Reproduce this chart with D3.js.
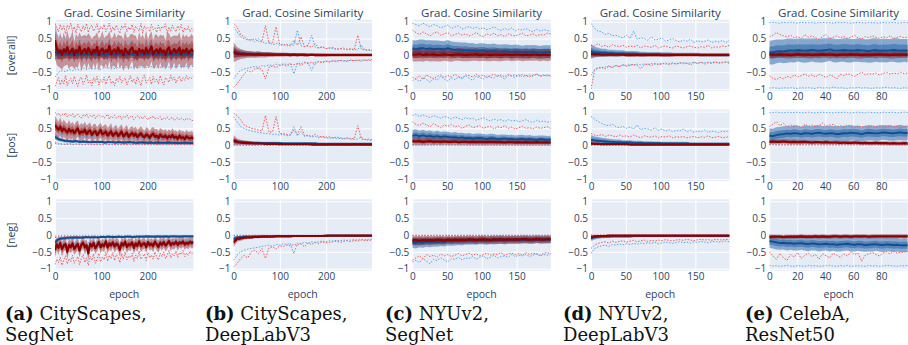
<!DOCTYPE html>
<html><head><meta charset="utf-8">
<script src="https://cdn.jsdelivr.net/npm/d3@7"></script>
<style>
html,body{margin:0;padding:0;background:#fff;}
svg{display:block;}
</style></head><body>
<svg id="chart" width="908" height="345"></svg>
<script>
// ---- labels ----
const panelTitle = "Grad. Cosine Similarity";
const rowLabels = ["[overall]", "[pos]", "[neg]"];
const xAxisTitle = "epoch";
const captionTags = ["(a)", "(b)", "(c)", "(d)", "(e)"];
const captionLine1 = ["CityScapes,", "CityScapes,", "NYUv2,", "NYUv2,", "CelebA,"];
const captionLine2 = ["SegNet", "DeepLabV3", "SegNet", "DeepLabV3", "ResNet50"];
const epochCounts = [300, 300, 200, 200, 100];
const xTickValues = [[0, 100, 200], [0, 100, 200], [0, 50, 100, 150], [0, 50, 100, 150], [0, 20, 40, 60, 80]];
const yTickValues = [-1, -0.5, 0, 0.5, 1];

// ---- series values (hundredths), sampled evenly over the epochs ----
// naming: <col><row>_<r|b><M mean | S spread | Hi max | Lo min>, rows O overall, P pos, N neg
// (a) CityScapes, SegNet
const aO_rM = [45,20,8,15,2,18,10,24,5,12, 20,0,16,8,26,4,13,19,6,22, 11,3,17,9,25,1,14,21,7,16, 10,28,3,12,18,6,23,9,15,0, 20,11,5,17,24,8,13,2,19,10, 16,4,22,7,14,27,3,12,18,6, 21,9,15,1,17,24,5,11,19,8, 14,22,3,16,9,20,6,13,18,10];
const aO_rS = [55,48,42,52,45,50,40,51,46,44, 53,41,49,46,43,52,45,42,51,44, 48,46,40,50,44,49,42,53,45,41, 50,44,48,42,51,46,40,49,43,47, 52,42,48,45,40,51,46,43,50,42, 47,44,52,41,48,45,42,50,44,47, 41,49,45,43,51,42,48,46,40,50, 44,47,42,49,45,41,48,44,46,43];
const aO_rHi = [95,82,70,92,75,88,64,90,78,96, 72,85,66,93,80,70,88,76,95,68, 84,90,72,80,94,66,86,78,92,70, 82,96,68,85,74,90,78,65,88,80, 94,70,84,76,92,68,86,80,72,95, 66,88,78,84,70,92,76,82,68,90, 74,86,80,94,66,84,72,90,78,70, 88,76,92,68,82,74,86,70,80,72];
const aO_rLo = [-92,-78,-66,-88,-72,-85,-60,-90,-75,-68, -84,-62,-80,-92,-70,-64,-86,-76,-58,-82, -74,-90,-66,-78,-62,-88,-72,-80,-64,-86, -70,-60,-84,-76,-90,-68,-78,-62,-82,-72, -66,-88,-74,-60,-80,-70,-86,-64,-76,-90, -68,-58,-82,-74,-66,-86,-62,-78,-70,-84, -60,-76,-88,-66,-72,-80,-58,-74,-64,-82, -70,-62,-78,-66,-74,-60,-72,-64,-68,-62];
const aO_bM = [10,5,4,6,3,5,4,2,5,3, 6,4,3,5,2,4,5,3,6,4, 3,5,4,2,5,3,4,6,3,4, 5,2,4,3,5,4,3,5,4,3];
const aO_bS = [22,16,14,15,13,14,14,12,14,13, 15,13,14,12,13,14,13,14,12,13, 14,13,12,14,13,12,14,13,12,13, 14,12,13,12,14,13,12,13,12,13];
const aO_bHi = [70,55,50,48,45,50,42,46,40,44, 38,42,40,45,38,40,36,42,38,40, 35,38,40,36,38,34,37,40,35,36, 38,34,36,35,38,33,36,35,34,35];
const aO_bLo = [-65,-50,-45,-48,-42,-45,-40,-44,-38,-42, -36,-40,-38,-42,-35,-38,-36,-40,-34,-37, -35,-38,-33,-36,-35,-34,-37,-33,-35,-34, -36,-32,-35,-33,-34,-32,-35,-33,-32,-33];

const aP_rM = [60,52,46,55,42,50,44,38,48,40, 45,36,43,50,34,41,38,46,33,40, 44,31,38,42,30,37,45,32,36,40, 29,35,41,28,34,38,27,33,40,26, 32,37,25,31,36,28,34,24,30,35, 27,23,32,29,22,30,34,25,28,21, 31,26,24,29,20,27,23,30,22,25, 19,28,21,24,18,26,22,20,23,19];
const aP_rS = [28,26,24,27,25,26,24,25,27,23, 25,24,26,23,24,25,23,24,26,22, 24,23,25,22,23,24,22,23,24,22, 23,22,24,21,23,22,21,23,22,21, 22,23,21,22,20,22,21,22,20,21, 22,20,21,22,20,21,20,22,20,21, 20,21,20,19,21,20,19,20,21,19, 20,19,20,19,20,19,18,20,19,18];
const aP_rHi = [98,90,95,86,93,88,96,84,91,87, 94,82,89,92,85,80,90,86,93,82, 88,84,91,79,86,90,83,88,80,85, 92,78,86,82,89,80,84,88,77,85, 82,90,79,84,87,76,83,88,80,85, 78,86,82,75,84,80,87,77,82,79, 85,74,81,78,84,76,80,83,73,79, 82,75,80,77,73,81,76,78,72,75];
const aP_rLo = [10,5,4,3,5,2,4,3,2,4, 3,2,3,2,4,2,3,2,3,2, 2,3,2,2,3,2,2,3,2,2, 2,3,2,2,2,2,3,2,2,2];
const aP_bM = [25,18,15,13,12,11,12,10,11,10, 9,10,9,10,8,9,9,8,9,8, 8,9,8,7,8,8,7,8,7,8, 7,7,8,7,7,6,7,7,6,7];
const aP_bS = [8,6,5,5,5,5,4,5,4,4, 4,4,4,4,4,4,4,4,4,4, 4,4,4,4,4,4,4,4,4,4, 4,4,4,4,4,4,4,4,4,4];
const aP_bHi = [45,35,32,30,28,30,26,28,25,27, 24,26,23,25,22,24,22,23,21,22, 20,22,21,20,21,19,20,21,19,20, 19,18,20,19,18,19,18,17,18,17];
const aP_bLo = [5,3,2,2,2,1,2,1,1,2, 1,1,1,1,1,1,1,1,1,1, 1,1,1,1,1,1,1,1,1,1, 1,1,1,1,1,1,1,1,1,1];

const aN_rM = [-45,-28,-38,-24,-42,-31,-27,-50,-30,-36, -25,-41,-33,-27,-46,-29,-23,-37,-30,-54, -26,-34,-24,-39,-31,-21,-36,-28,-33,-19, -37,-25,-31,-22,-34,-26,-29,-44,-24,-31, -20,-35,-27,-30,-22,-38,-25,-32,-19,-33, -27,-24,-36,-21,-30,-26,-33,-20,-28,-35, -23,-29,-21,-31,-26,-18,-30,-24,-27,-20, -29,-22,-25,-19,-28,-23,-26,-20,-24,-21];
const aN_rS = [22,19,21,18,22,19,17,22,19,18, 21,17,20,18,21,17,18,20,17,22, 18,17,19,17,18,16,19,17,18,16, 19,17,18,16,19,17,18,20,16,18, 16,19,17,18,16,19,17,18,16,18, 17,16,18,16,17,16,18,16,17,18, 16,17,16,17,16,15,17,16,16,15, 17,15,16,15,16,15,16,15,16,15];
const aN_rHi = [-8,-5,-6,-4,-7,-5,-4,-6,-5,-4, -6,-3,-5,-4,-6,-3,-4,-5,-3,-6, -4,-3,-5,-3,-4,-3,-5,-2,-4,-3, -4,-2,-3,-3,-4,-2,-3,-2,-3,-2];
const aN_rLo = [-88,-72,-82,-66,-90,-74,-62,-86,-70,-80, -60,-84,-75,-64,-88,-70,-58,-82,-68,-90, -63,-76,-56,-84,-72,-54,-80,-65,-74,-50, -78,-60,-70,-52,-76,-58,-66,-82,-55,-72, -50,-74,-62,-68,-54,-78,-60,-70,-48,-72, -64,-56,-76,-52,-68,-60,-72,-50,-66,-74, -54,-64,-50,-70,-60,-46,-68,-56,-62,-48, -66,-52,-58,-46,-64,-54,-60,-48,-56,-50];
const aN_bM = [-22,-12,-10,-9,-8,-8,-7,-8,-7,-6, -7,-6,-7,-6,-6,-5,-6,-6,-5,-6, -5,-5,-6,-5,-5,-5,-4,-5,-5,-4, -5,-4,-5,-4,-4,-5,-4,-4,-4,-4];
const aN_bS = [8,6,5,5,5,5,5,4,5,4, 4,4,4,4,4,4,4,4,4,4, 4,4,4,4,4,4,4,4,4,4, 4,4,4,4,4,4,4,4,4,4];
const aN_bHi = [-3,-2,-1,-1,-1,-1,-1,-1,-1,-1, -1,-1,-1,-1,-1,-1,-1,-1,-1,-1, -1,-1,-1,-1,-1,-1,-1,-1,-1,-1, -1,-1,-1,-1,-1,-1,-1,-1,-1,-1];
const aN_bLo = [-45,-30,-28,-25,-26,-24,-23,-25,-22,-24, -21,-23,-22,-20,-22,-21,-20,-22,-19,-21, -20,-19,-21,-18,-20,-19,-18,-20,-18,-19, -18,-17,-19,-17,-18,-17,-16,-18,-16,-17];

// (b) CityScapes, DeepLabV3
const bO_rM = [10,5,4,3,3,3,2,3,2,2, 2,2,2,2,2,2,1,2,1,2, 1,1,2,1,1,1,1,1,1,1, 1,1,1,1,1,1,1,1,1,1];
const bO_rS = [30,20,15,12,10,10,9,9,8,8, 7,7,6,6,6,5,5,5,5,5, 4,4,4,4,4,4,4,3,3,3, 3,3,3,3,3,3,3,3,3,3];
const bO_rHi = [95,85,62,55,48,45,50,42,40,88, 36,38,85,32,30,33,28,45,30,55, 26,28,24,35,22,26,20,22,24,18, 20,22,18,20,17,60,18,16,17,15];
const bO_rLo = [-95,-85,-70,-55,-45,-50,-40,-38,-42,-70, -35,-32,-36,-30,-28,-32,-26,-28,-25,-30, -22,-24,-20,-26,-18,-22,-17,-20,-16,-18, -15,-17,-18,-14,-16,-15,-17,-14,-15,-14];
const bO_bM = [10,6,5,5,4,4,4,4,4,3, 4,3,3,3,3,3,3,3,3,2, 3,2,2,2,2,2,2,2,2,2, 2,2,2,2,2,2,2,2,2,2];
const bO_bS = [18,12,10,9,8,7,7,7,6,6, 6,5,5,5,5,5,4,4,4,4, 4,4,4,4,4,3,3,3,3,3, 3,3,3,3,3,3,3,3,3,3];
const bO_bHi = [85,70,55,50,45,48,40,50,42,35, 40,32,36,30,34,28,32,30,75,28, 26,30,60,24,22,25,20,22,20,18, 20,18,17,18,16,18,30,16,15,14];
const bO_bLo = [-70,-55,-45,-40,-38,-35,-33,-36,-30,-32, -28,-30,-26,-28,-25,-27,-24,-55,-22,-25, -20,-22,-45,-20,-18,-20,-17,-18,-16,-17, -15,-16,-15,-14,-15,-14,-13,-14,-13,-12];

const bP_rM = [15,10,8,7,6,6,5,5,5,4, 4,4,4,3,3,3,3,3,3,3, 3,3,2,2,2,2,2,2,2,2, 2,2,2,2,2,2,2,2,2,2];
const bP_rS = [16,10,8,7,6,6,5,5,4,4, 4,4,4,3,3,3,3,3,3,3, 3,3,3,3,3,3,2,2,2,2, 2,2,2,2,2,2,2,2,2,2];
const bP_rHi = [95,88,75,60,55,50,48,45,42,88, 38,40,85,35,34,32,30,45,32,55, 28,30,26,32,25,26,24,25,22,24, 22,20,22,20,19,58,18,17,18,16];
const bP_rLo = [1,0,0,0,0,0,0,0,0,0, 0,0,0,0,0,0,0,0,0,0, 0,0,0,0,0,0,0,0,0,0, 0,0,0,0,0,0,0,0,0,0];
const bP_bM = [12,10,9,8,8,7,7,7,6,6, 6,6,6,6,5,5,5,5,5,5, 5,5,5,5,4,4,4,4,4,4, 4,4,4,4,4,4,4,4,4,4];
const bP_bS = [8,6,5,5,5,5,4,4,4,4, 4,4,4,4,4,4,4,4,4,4, 4,4,4,4,4,4,4,4,4,4, 4,4,4,4,4,4,4,4,4,4];
const bP_bHi = [85,70,55,50,45,42,40,38,36,35, 34,32,33,30,32,28,30,55,28,40, 26,28,24,26,22,24,22,20,22,19, 20,18,20,18,17,18,25,16,15,14];
const bP_bLo = [2,1,1,1,1,1,1,1,1,1, 1,1,1,1,1,1,1,1,1,1, 1,1,1,1,1,1,1,1,1,1, 1,1,1,1,1,1,1,1,1,1];

const bN_rM = [-22,-12,-10,-8,-7,-7,-6,-6,-5,-5, -5,-5,-4,-4,-4,-4,-4,-3,-3,-3, -3,-3,-3,-3,-3,-3,-2,-2,-2,-2, -2,-2,-2,-2,-2,-2,-2,-2,-2,-2];
const bN_rS = [14,8,7,6,5,5,4,4,4,4, 3,3,3,3,3,3,3,3,3,3, 3,3,3,3,2,2,2,2,2,2, 2,2,2,2,2,2,2,2,2,2];
const bN_rHi = [-2,-1,-1,-1,-1,-1,-1,-1,-1,-1, -1,-1,-1,-1,-1,-1,-1,-1,-1,-1, -1,-1,-1,-1,-1,-1,-1,-1,-1,-1, -1,-1,-1,-1,-1,-1,-1,-1,-1,-1];
const bN_rLo = [-95,-85,-70,-60,-68,-50,-45,-55,-40,-70, -38,-35,-42,-32,-34,-30,-32,-28,-30,-26, -35,-24,-28,-22,-26,-20,-24,-22,-20,-18, -22,-19,-17,-20,-16,-18,-15,-17,-16,-15];
const bN_bM = [-12,-8,-6,-5,-5,-5,-4,-4,-4,-4, -4,-4,-3,-3,-3,-3,-3,-3,-3,-3, -3,-3,-3,-3,-3,-3,-3,-2,-2,-2, -2,-2,-2,-2,-2,-2,-2,-2,-2,-2];
const bN_bS = [8,5,4,4,4,4,4,3,3,3, 3,3,3,3,3,3,3,3,3,3, 3,3,3,3,3,3,3,3,3,3, 3,3,3,3,3,3,3,3,3,3];
const bN_bHi = [-1,-1,-1,-1,-1,-1,-1,-1,-1,-1, -1,-1,-1,-1,-1,-1,-1,-1,-1,-1, -1,-1,-1,-1,-1,-1,-1,-1,-1,-1, -1,-1,-1,-1,-1,-1,-1,-1,-1,-1];
const bN_bLo = [-75,-60,-50,-45,-42,-40,-38,-36,-34,-32, -30,-34,-28,-30,-26,-28,-25,-55,-24,-26, -22,-24,-20,-22,-20,-18,-20,-17,-18,-16, -17,-15,-16,-15,-14,-15,-13,-14,-13,-12];

// (c) NYUv2, SegNet
const cO_rM = [3,2,4,1,3,2,3,1,2,3, 2,1,2,3,2,1,2,2,3,1, 2,2,1,2,2,1,2,2,1,2, 2,1,2,1,2,2,1,2,1,2];
const cO_rS = [21,20,21,20,19,20,20,19,20,19, 19,20,18,19,19,18,19,18,19,18, 18,19,18,18,19,18,18,17,18,18, 17,18,18,17,18,17,18,17,18,17];
const cO_rHi = [75,68,62,70,64,58,66,70,60,64, 68,58,62,66,60,64,58,62,68,60, 56,64,60,66,58,62,56,64,60,58, 62,66,58,60,64,58,62,60,66,64];
const cO_rLo = [-65,-70,-60,-72,-58,-64,-70,-62,-58,-66, -60,-64,-56,-62,-68,-58,-60,-64,-56,-62, -58,-66,-60,-56,-62,-58,-64,-56,-60,-58, -62,-56,-60,-64,-58,-56,-62,-60,-58,-62];
const cO_bM = [20,18,20,22,19,21,18,20,19,17, 22,18,16,17,15,16,14,15,13,14, 15,12,13,14,12,11,13,12,10,12, 11,10,11,10,12,10,9,10,11,10];
const cO_bS = [25,26,27,25,26,24,26,24,24,25, 24,23,24,22,23,22,22,22,21,22, 21,22,21,21,20,21,20,20,21,20, 20,19,20,20,19,20,19,20,19,20];
const cO_bHi = [95,92,88,96,90,85,92,88,82,86, 90,80,84,88,78,82,86,80,84,78, 82,76,80,85,78,74,80,76,82,72, 78,75,80,74,70,78,72,76,74,72];
const cO_bLo = [-75,-70,-78,-65,-72,-80,-68,-74,-62,-70, -76,-66,-72,-64,-70,-60,-68,-74,-62,-66, -70,-60,-65,-68,-58,-64,-70,-60,-62,-66, -56,-64,-60,-58,-62,-55,-60,-58,-62,-56];

const cP_rM = [12,11,12,10,11,12,10,11,10,11, 10,10,11,9,10,10,9,10,9,10, 9,9,10,9,9,9,8,9,9,8, 9,8,9,8,8,9,8,8,8,8];
const cP_rS = [12,11,12,11,11,11,11,10,11,10, 10,10,10,10,10,10,10,10,10,10, 10,10,10,10,9,9,9,9,9,9, 9,9,9,9,9,9,9,9,9,9];
const cP_rHi = [70,62,58,66,60,55,64,58,52,60, 56,62,54,58,50,56,60,52,55,58, 50,54,56,48,55,52,58,50,54,48, 52,56,50,52,48,54,50,52,55,50];
const cP_rLo = [0,0,0,0,0,0,0,0,0,0, 0,0,0,0,0,0,0,0,0,0, 0,0,0,0,0,0,0,0,0,0, 0,0,0,0,0,0,0,0,0,0];
const cP_bM = [28,30,27,29,26,28,25,27,24,26, 25,23,24,22,23,21,22,20,21,22, 20,19,21,20,18,19,20,18,19,17, 18,19,17,18,17,16,18,17,16,17];
const cP_bS = [17,17,16,17,16,16,15,16,15,15, 15,14,15,14,14,14,14,13,14,13, 13,13,13,13,12,13,12,12,12,12, 12,12,12,12,11,12,11,12,11,11];
const cP_bHi = [88,92,85,90,86,82,88,84,80,86, 82,78,84,80,76,82,78,80,74,78, 82,76,72,78,74,76,70,76,72,74, 70,72,76,70,68,74,70,72,68,70];
const cP_bLo = [2,3,2,2,3,2,2,2,2,2, 2,2,1,2,2,1,2,1,2,1, 1,2,1,1,1,1,1,1,1,1, 1,1,1,1,1,1,1,1,1,1];

const cN_rM = [-16,-15,-17,-15,-16,-15,-16,-14,-15,-16, -14,-15,-14,-15,-14,-15,-13,-14,-15,-14, -13,-14,-15,-13,-14,-13,-14,-13,-14,-13, -14,-12,-13,-14,-13,-12,-13,-14,-12,-13];
const cN_rS = [14,13,14,13,13,13,13,12,13,12, 12,12,12,12,12,12,12,12,12,12, 12,12,12,12,12,12,12,12,12,12, 12,12,12,12,12,12,12,12,12,12];
const cN_rHi = [-1,-1,-1,-1,-1,-1,-1,-1,-1,-1, -1,-1,-1,-1,-1,-1,-1,-1,-1,-1, -1,-1,-1,-1,-1,-1,-1,-1,-1,-1, -1,-1,-1,-1,-1,-1,-1,-1,-1,-1];
const cN_rLo = [-75,-68,-62,-70,-58,-64,-60,-66,-56,-62, -58,-64,-60,-55,-62,-58,-54,-60,-56,-62, -58,-54,-60,-56,-58,-52,-60,-56,-54,-58, -55,-60,-52,-58,-54,-56,-60,-54,-52,-56];
const cN_bM = [-22,-24,-21,-23,-20,-22,-20,-21,-19,-20, -18,-19,-18,-17,-18,-16,-17,-16,-17,-15, -16,-17,-15,-16,-15,-14,-16,-15,-14,-15, -14,-15,-13,-14,-15,-13,-14,-13,-14,-13];
const cN_bS = [16,16,15,15,15,14,14,14,14,14, 13,13,13,13,13,12,12,12,12,12, 12,12,12,12,12,12,12,11,11,11, 11,11,11,11,11,11,11,11,11,11];
const cN_bHi = [-2,-1,-2,-1,-1,-2,-1,-1,-1,-1, -1,-1,-1,-1,-1,-1,-1,-1,-1,-1, -1,-1,-1,-1,-1,-1,-1,-1,-1,-1, -1,-1,-1,-1,-1,-1,-1,-1,-1,-1];
const cN_bLo = [-80,-75,-82,-70,-78,-85,-72,-76,-68,-74, -80,-70,-72,-66,-74,-68,-70,-64,-72,-66, -62,-70,-66,-60,-68,-64,-62,-66,-58,-64, -60,-62,-58,-64,-60,-56,-62,-58,-60,-56];

// (d) NYUv2, DeepLabV3
const dO_rM = [5,3,3,2,2,2,2,2,2,2, 1,1,1,1,1,1,1,1,1,1, 1,1,1,1,1,1,1,1,1,1, 1,1,1,1,1,1,1,1,1,1];
const dO_rS = [12,8,7,6,6,5,5,5,5,4, 4,4,4,4,4,4,4,4,4,4, 4,4,4,4,3,3,3,3,3,3, 3,3,3,3,3,3,3,3,3,3];
const dO_rHi = [30,28,35,26,30,24,32,28,26,30, 24,28,25,30,22,28,26,24,30,22, 26,28,24,22,28,25,22,26,28,24, 22,26,24,30,22,26,24,28,26,30];
const dO_rLo = [-100,-45,-38,-35,-40,-32,-36,-30,-34,-28, -32,-30,-26,-30,-40,-28,-26,-30,-24,-28, -26,-22,-28,-24,-26,-22,-25,-23,-28,-22, -24,-20,-26,-22,-24,-20,-23,-22,-20,-24];
const dO_bM = [12,10,9,8,8,7,7,6,6,6, 5,5,5,5,4,4,4,4,4,4, 3,3,3,3,3,3,3,3,3,3, 3,2,2,2,2,2,2,2,2,2];
const dO_bS = [22,16,14,12,12,10,10,10,9,9, 8,8,8,7,7,7,6,6,6,6, 6,6,6,5,5,5,5,5,5,5, 5,5,5,5,5,5,5,5,5,5];
const dO_bHi = [95,80,72,70,62,65,58,60,55,52, 60,50,72,48,52,50,45,55,46,48, 52,42,46,50,44,40,46,42,48,38, 44,40,42,46,38,42,40,44,38,45];
const dO_bLo = [-60,-42,-36,-38,-34,-32,-35,-30,-32,-28, -30,-27,-29,-26,-28,-25,-27,-24,-26,-25, -23,-26,-24,-22,-25,-23,-21,-24,-22,-20, -23,-21,-22,-20,-21,-19,-22,-20,-19,-20];

const dP_rM = [5,4,4,3,3,3,3,3,3,3, 3,2,2,2,2,2,2,2,2,2, 2,2,2,2,2,2,2,2,2,2, 2,2,2,2,2,2,2,2,2,2];
const dP_rS = [5,4,4,3,3,3,3,3,3,3, 3,3,3,3,3,3,3,3,3,3, 3,3,3,3,3,3,3,3,3,3, 3,3,3,3,3,3,3,3,3,3];
const dP_rHi = [35,30,28,32,26,30,28,25,30,26, 28,24,30,26,22,28,25,24,28,22, 26,24,28,22,25,24,26,22,24,26, 22,25,23,28,22,24,26,22,24,25];
const dP_rLo = [0,0,0,0,0,0,0,0,0,0, 0,0,0,0,0,0,0,0,0,0, 0,0,0,0,0,0,0,0,0,0, 0,0,0,0,0,0,0,0,0,0];
const dP_bM = [16,14,13,12,11,10,10,9,9,8, 8,8,7,7,7,6,6,6,6,6, 5,5,5,5,5,5,5,5,4,4, 4,4,4,4,4,4,4,4,4,4];
const dP_bS = [14,12,11,10,10,9,8,8,8,7, 7,7,6,6,6,6,6,6,5,5, 5,5,5,5,5,5,5,5,5,5, 5,5,5,5,5,5,5,5,5,5];
const dP_bHi = [85,78,70,65,60,58,62,55,52,56, 50,54,48,60,46,50,48,45,52,44, 48,42,46,40,44,42,48,40,44,38, 42,40,45,38,42,40,38,42,40,44];
const dP_bLo = [1,1,1,1,1,1,1,1,1,1, 1,1,1,1,1,1,1,1,1,1, 1,1,1,1,1,1,1,1,1,1, 1,1,1,1,1,1,1,1,1,1];

const dN_rM = [-6,-4,-3,-3,-3,-2,-2,-2,-2,-2, -2,-2,-2,-2,-2,-2,-2,-2,-2,-2, -2,-2,-2,-2,-2,-2,-2,-2,-2,-2, -2,-2,-2,-2,-2,-2,-2,-2,-2,-2];
const dN_rS = [6,4,3,3,3,3,3,3,3,3, 3,3,3,3,3,3,3,3,3,3, 3,3,3,3,3,3,3,3,3,3, 3,3,3,3,3,3,3,3,3,3];
const dN_rHi = [0,0,0,0,0,0,0,0,0,0, 0,0,0,0,0,0,0,0,0,0, 0,0,0,0,0,0,0,0,0,0, 0,0,0,0,0,0,0,0,0,0];
const dN_rLo = [-40,-30,-25,-22,-20,-24,-18,-22,-19,-17, -21,-18,-16,-20,-17,-15,-19,-16,-18,-15, -17,-14,-16,-18,-15,-14,-16,-13,-15,-17, -14,-13,-15,-14,-16,-13,-14,-15,-13,-14];
const dN_bM = [-10,-7,-6,-5,-5,-5,-4,-4,-4,-4, -4,-4,-3,-3,-3,-3,-3,-3,-3,-3, -3,-3,-3,-3,-3,-3,-3,-3,-3,-3, -3,-3,-3,-3,-3,-3,-3,-3,-3,-3];
const dN_bS = [8,6,5,5,4,4,4,4,4,4, 4,4,4,4,4,4,4,4,4,4, 4,4,4,4,4,4,4,4,4,4, 4,4,4,4,4,4,4,4,4,4];
const dN_bHi = [-1,-1,-1,-1,-1,-1,-1,-1,-1,-1, -1,-1,-1,-1,-1,-1,-1,-1,-1,-1, -1,-1,-1,-1,-1,-1,-1,-1,-1,-1, -1,-1,-1,-1,-1,-1,-1,-1,-1,-1];
const dN_bLo = [-55,-40,-35,-32,-30,-34,-28,-30,-27,-29, -26,-28,-25,-27,-24,-26,-23,-25,-22,-26, -24,-21,-23,-25,-22,-20,-23,-21,-24,-20, -22,-19,-21,-23,-20,-19,-21,-20,-18,-20];

// (e) CelebA, ResNet50
const eO_rM = [3,2,2,3,2,2,1,2,3,2, 2,2,1,2,2,3,2,2,2,1, 2,2,2,3,2,2,1,2,2,2, 2,3,2,2,1,2,2,2,2,2];
const eO_rS = [11,11,10,11,10,11,10,10,11,10, 10,11,10,10,11,10,10,11,10,10, 10,11,10,10,10,11,10,10,10,10, 11,10,10,10,10,11,10,10,10,10];
const eO_rHi = [55,60,68,62,58,55,60,52,56,50, 62,54,58,52,48,56,62,50,54,58, 52,56,50,54,60,52,48,56,52,58, 54,50,56,52,58,50,54,56,52,55];
const eO_rLo = [-60,-68,-72,-65,-70,-62,-66,-58,-64,-60, -55,-62,-58,-64,-56,-60,-66,-58,-62,-70, -56,-60,-54,-58,-62,-56,-50,-58,-54,-56, -52,-58,-54,-50,-56,-52,-55,-50,-54,-52];
const eO_bM = [8,9,12,13,12,14,15,14,16,15, 14,15,16,15,14,15,16,18,15,14, 15,16,15,14,15,16,15,14,13,15, 16,14,15,14,15,16,15,14,15,14];
const eO_bS = [35,36,35,34,35,36,35,35,34,35, 36,35,34,35,35,36,35,34,35,35, 34,35,36,35,34,35,35,34,35,36, 35,34,35,35,34,35,36,35,34,35];
const eO_bHi = [97,98,97,96,98,97,98,97,96,98, 97,97,98,96,97,98,97,97,96,98, 97,98,97,96,97,98,97,96,98,97, 97,96,98,97,97,98,96,97,98,97];
const eO_bLo = [-97,-96,-97,-98,-96,-97,-96,-97,-98,-96, -97,-96,-97,-98,-95,-97,-96,-97,-94,-97, -96,-97,-98,-96,-97,-95,-97,-96,-97,-98, -96,-97,-96,-95,-97,-96,-97,-98,-96,-97];

const eP_rM = [10,11,10,10,11,10,9,10,9,9, 10,9,8,9,9,8,9,8,8,8, 7,8,7,7,8,7,6,7,6,6, 7,6,6,6,5,6,5,5,6,5];
const eP_rS = [7,7,7,7,7,7,7,7,7,7, 6,6,6,6,6,6,6,6,6,6, 6,6,6,6,6,6,6,6,6,6, 6,6,6,6,6,6,6,6,6,6];
const eP_rHi = [55,62,70,58,65,55,60,56,58,52, 62,56,60,54,58,66,56,60,62,55, 58,54,60,56,52,58,54,56,52,58, 54,56,52,54,58,54,56,52,55,54];
const eP_rLo = [1,1,1,1,1,1,1,1,1,1, 1,1,1,1,1,1,1,1,1,1, 1,1,1,1,1,1,1,1,1,1, 1,1,1,1,1,1,1,1,1,1];
const eP_bM = [28,27,30,32,33,35,34,36,35,33, 36,35,34,36,37,35,34,36,35,33, 34,36,35,37,36,35,33,36,37,36, 35,36,38,37,36,35,37,38,36,37];
const eP_bS = [22,22,23,22,23,22,22,23,22,22, 23,22,22,23,22,22,23,22,22,23, 22,22,23,22,22,23,22,22,23,22, 22,23,22,22,23,22,22,23,22,22];
const eP_bHi = [96,97,98,97,96,98,97,97,98,96, 97,98,97,96,97,98,97,97,96,98, 97,98,97,96,97,98,97,96,98,97, 97,96,98,97,97,98,96,97,98,97];
const eP_bLo = [2,2,1,1,1,1,1,1,1,1, 1,1,1,1,1,1,1,1,1,1, 1,1,1,1,1,1,1,1,1,1, 1,1,1,1,1,1,1,1,1,1];

const eN_rM = [-6,-5,-5,-5,-6,-5,-5,-5,-5,-4, -5,-5,-5,-4,-5,-4,-5,-5,-4,-4, -5,-4,-4,-5,-4,-4,-4,-4,-5,-4, -4,-4,-4,-4,-4,-4,-4,-4,-4,-4];
const eN_rS = [6,6,6,6,6,6,6,6,6,6, 6,6,6,6,6,6,6,6,6,6, 6,6,6,6,6,6,6,6,6,6, 6,6,6,6,6,6,6,6,6,6];
const eN_rHi = [-1,-1,-1,-1,-1,-1,-1,-1,-1,-1, -1,-1,-1,-1,-1,-1,-1,-1,-1,-1, -1,-1,-1,-1,-1,-1,-1,-1,-1,-1, -1,-1,-1,-1,-1,-1,-1,-1,-1,-1];
const eN_rLo = [-50,-62,-72,-55,-68,-75,-58,-66,-52,-70, -60,-54,-64,-58,-72,-56,-62,-68,-54,-60, -66,-56,-62,-50,-58,-54,-78,-60,-56,-52, -58,-62,-54,-50,-56,-48,-54,-52,-50,-48];
const eN_bM = [-18,-20,-22,-24,-23,-25,-24,-26,-25,-24, -26,-27,-25,-26,-28,-27,-26,-28,-27,-29, -28,-27,-26,-28,-29,-27,-28,-30,-29,-28, -27,-29,-30,-28,-29,-30,-29,-31,-30,-31];
const eN_bS = [20,20,21,20,20,21,20,20,21,20, 20,21,20,20,21,20,20,21,20,20, 21,20,20,21,20,20,21,20,20,21, 20,20,21,20,20,21,20,20,21,20];
const eN_bHi = [-1,-1,-1,-1,-1,-1,-1,-1,-1,-1, -1,-1,-1,-1,-1,-1,-1,-1,-1,-1, -1,-1,-1,-1,-1,-1,-1,-1,-1,-1, -1,-1,-1,-1,-1,-1,-1,-1,-1,-1];
const eN_bLo = [-90,-92,-91,-93,-92,-90,-92,-93,-91,-92, -93,-90,-92,-91,-93,-92,-91,-90,-92,-93, -91,-92,-90,-93,-92,-91,-92,-93,-90,-92, -91,-93,-92,-90,-91,-92,-93,-91,-92,-90];

// ---- table of panels: rows x columns ----
function series(mean, spread, hi, lo) {
  const s = v => v / 100;
  return { mean: mean.map(s), spread: spread.map(s), hi: hi.map(s), lo: lo.map(s) };
}
function cell(rM, rS, rHi, rLo, bM, bS, bHi, bLo) {
  return { red: series(rM, rS, rHi, rLo), blue: series(bM, bS, bHi, bLo) };
}
const cells = [
  [cell(aO_rM,aO_rS,aO_rHi,aO_rLo,aO_bM,aO_bS,aO_bHi,aO_bLo), cell(bO_rM,bO_rS,bO_rHi,bO_rLo,bO_bM,bO_bS,bO_bHi,bO_bLo),
   cell(cO_rM,cO_rS,cO_rHi,cO_rLo,cO_bM,cO_bS,cO_bHi,cO_bLo), cell(dO_rM,dO_rS,dO_rHi,dO_rLo,dO_bM,dO_bS,dO_bHi,dO_bLo),
   cell(eO_rM,eO_rS,eO_rHi,eO_rLo,eO_bM,eO_bS,eO_bHi,eO_bLo)],
  [cell(aP_rM,aP_rS,aP_rHi,aP_rLo,aP_bM,aP_bS,aP_bHi,aP_bLo), cell(bP_rM,bP_rS,bP_rHi,bP_rLo,bP_bM,bP_bS,bP_bHi,bP_bLo),
   cell(cP_rM,cP_rS,cP_rHi,cP_rLo,cP_bM,cP_bS,cP_bHi,cP_bLo), cell(dP_rM,dP_rS,dP_rHi,dP_rLo,dP_bM,dP_bS,dP_bHi,dP_bLo),
   cell(eP_rM,eP_rS,eP_rHi,eP_rLo,eP_bM,eP_bS,eP_bHi,eP_bLo)],
  [cell(aN_rM,aN_rS,aN_rHi,aN_rLo,aN_bM,aN_bS,aN_bHi,aN_bLo), cell(bN_rM,bN_rS,bN_rHi,bN_rLo,bN_bM,bN_bS,bN_bHi,bN_bLo),
   cell(cN_rM,cN_rS,cN_rHi,cN_rLo,cN_bM,cN_bS,cN_bHi,cN_bLo), cell(dN_rM,dN_rS,dN_rHi,dN_rLo,dN_bM,dN_bS,dN_bHi,dN_bLo),
   cell(eN_rM,eN_rS,eN_rHi,eN_rLo,eN_bM,eN_bS,eN_bHi,eN_bLo)]
];

// ---- layout & style ----
const colLeft = [55, 233.5, 412.3, 591, 769.3];
const captionX = [5, 205, 385, 563, 745];
const plotW = 138.5;
const rowMid = [55.4, 145.2, 235.0];
const halfH = 35.7;           // pixel half-height of the [-1.06, 1.06] range
const yDomain = [-1.06, 1.06];
const bgColor = "#E5ECF6";
const textColor = "#2a3f5f";
const uiFont = "'Open Sans', 'Noto Sans', sans-serif";
const capFont = "'DejaVu Serif', serif";
const capSize = 18;
const style = {
  red:  { line: "#8b0000", band: "rgb(139,0,0)", bandOp: 0.38, dots: "#ee5a5a", width: 2.2 },
  blue: { line: "#0d4d90", band: "rgb(30,92,160)", bandOp: 0.48, dots: "#5aa3ea", width: 1.8 }
};

const svg = d3.select("#chart");
const defs = svg.append("defs");

cells.forEach((rowCells, ri) => {
  rowCells.forEach((c, ci) => {
    const E = epochCounts[ci];
    const x = d3.scaleLinear().domain([0, E - 1]).range([colLeft[ci], colLeft[ci] + plotW]);
    const y = d3.scaleLinear().domain(yDomain).range([rowMid[ri] + halfH, rowMid[ri] - halfH]);
    const g = svg.append("g");

    // plot background and white grid
    g.append("rect").attr("x", x.range()[0]).attr("y", y.range()[1])
      .attr("width", plotW).attr("height", 2 * halfH).attr("fill", bgColor);
    g.append("g").attr("transform", `translate(0,${y.range()[0]})`)
      .call(d3.axisBottom(x).tickValues(xTickValues[ci]).tickSize(-2 * halfH).tickFormat(""))
      .call(s => s.select(".domain").remove())
      .call(s => s.selectAll("line").attr("stroke", "#fff").attr("stroke-width", 1));
    g.append("g").attr("transform", `translate(${x.range()[0]},0)`)
      .call(d3.axisLeft(y).tickValues(yTickValues).tickSize(-plotW).tickFormat(""))
      .call(s => s.select(".domain").remove())
      .call(s => s.selectAll("line").attr("stroke", "#fff").attr("stroke-width", 1));

    // tick labels
    g.append("g").attr("transform", `translate(${x.range()[0]},0)`)
      .call(d3.axisLeft(y).tickValues(yTickValues).tickSize(0).tickPadding(3).tickFormat(d3.format("")))
      .call(s => s.select(".domain").remove())
      .call(s => s.selectAll("text").attr("fill", textColor).attr("font-family", uiFont).attr("font-size", 10));
    g.append("g").attr("transform", `translate(0,${y.range()[0]})`)
      .call(d3.axisBottom(x).tickValues(xTickValues[ci]).tickSize(0).tickPadding(2))
      .call(s => s.select(".domain").remove())
      .call(s => s.selectAll("text").attr("fill", textColor).attr("font-family", uiFont).attr("font-size", 10));

    // data layers, clipped to the plot area
    const clipId = `clip-${ri}-${ci}`;
    defs.append("clipPath").attr("id", clipId).append("rect")
      .attr("x", x.range()[0]).attr("y", y.range()[1]).attr("width", plotW).attr("height", 2 * halfH);
    const layer = g.append("g").attr("clip-path", `url(#${clipId})`);

    const epochOf = (n) => (i) => i * (E - 1) / (n - 1);
    const band = (s, k) => {
      const ep = epochOf(s.mean.length);
      return d3.area()
        .x((d, i) => x(ep(i)))
        .y0((d, i) => y(s.mean[i] - k * s.spread[i]))
        .y1((d, i) => y(s.mean[i] + k * s.spread[i]))(s.mean);
    };
    const line = (vals) => {
      const ep = epochOf(vals.length);
      return d3.line().x((d, i) => x(ep(i))).y(d => y(d))(vals);
    };

    ["blue", "red"].forEach(key => {
      const s = c[key], st = style[key];
      layer.append("path").attr("d", band(s, 1)).attr("fill", st.band).attr("fill-opacity", st.bandOp);
      layer.append("path").attr("d", band(s, 0.5)).attr("fill", st.band).attr("fill-opacity", st.bandOp);
    });
    ["blue", "red"].forEach(key => {
      const s = c[key], st = style[key];
      [s.hi, s.lo].forEach(vals => {
        layer.append("path").attr("d", line(vals)).attr("fill", "none")
          .attr("stroke", st.dots).attr("stroke-width", 1).attr("stroke-dasharray", "1.5,1.5");
      });
    });
    ["blue", "red"].forEach(key => {
      const s = c[key], st = style[key];
      layer.append("path").attr("d", line(s.mean)).attr("fill", "none")
        .attr("stroke", st.line).attr("stroke-width", st.width).attr("stroke-linejoin", "round");
    });
  });
});

// column titles, x-axis titles, captions
epochCounts.forEach((E, ci) => {
  const cx = colLeft[ci] + plotW / 2;
  svg.append("text").attr("x", cx).attr("y", 16.5).attr("text-anchor", "middle")
    .attr("font-family", uiFont).attr("font-size", 11.5).attr("fill", textColor).text(panelTitle);
  svg.append("text").attr("x", cx).attr("y", 298).attr("text-anchor", "middle")
    .attr("font-family", uiFont).attr("font-size", 10.5).attr("fill", textColor).text(xAxisTitle);
  const t1 = svg.append("text").attr("x", captionX[ci]).attr("y", 319.5)
    .attr("font-family", capFont).attr("font-size", capSize).attr("fill", "#111");
  t1.append("tspan").attr("font-weight", "bold").text(captionTags[ci]);
  t1.append("tspan").text(" " + captionLine1[ci]);
  svg.append("text").attr("x", captionX[ci]).attr("y", 341)
    .attr("font-family", capFont).attr("font-size", capSize).attr("fill", "#111")
    .text(captionLine2[ci]);
});

// row labels
rowLabels.forEach((label, ri) => {
  svg.append("text").attr("transform", `translate(11,${rowMid[ri]}) rotate(-90)`)
    .attr("text-anchor", "middle").attr("dominant-baseline", "central")
    .attr("font-family", uiFont).attr("font-size", 10.5).attr("fill", textColor).text(label);
});
</script>
</body></html>
